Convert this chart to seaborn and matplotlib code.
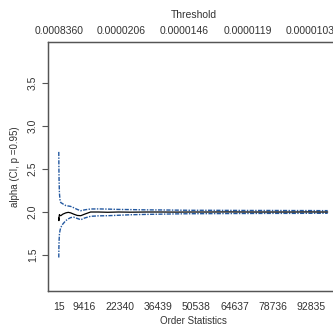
import numpy as np
import pandas as pd
import matplotlib
matplotlib.use("Agg")
import matplotlib.pyplot as plt
import seaborn as sns


# Hill plot readings: order statistic k, alpha estimate and 95% CI bounds
order_k = [15, 60, 120, 250, 500, 750, 1500, 2600, 3500, 4400, 5500, 6800,
           8100, 9500, 11700, 14500, 18000, 22000, 26400, 32000, 37400, 43000,
           48300, 55000, 62000, 70300, 78000, 86000, 92000, 95900, 98800]
alpha_hat = [1.93, 1.90, 1.94, 1.97, 1.96, 1.957, 1.975, 1.99, 1.996, 1.99,
             1.975, 1.96, 1.957, 1.975, 2.0, 2.0, 1.997, 2.0, 1.998, 2.0,
             2.0, 1.999, 2.0, 2.0, 2.001, 2.0, 2.0, 2.0, 2.001, 2.0, 2.0]
ci_upper = [2.70, 2.52, 2.38, 2.22, 2.13, 2.11, 2.095, 2.075, 2.07, 2.065,
            2.05, 2.03, 2.015, 2.025, 2.035, 2.036, 2.034, 2.03, 2.028, 2.025,
            2.024, 2.022, 2.02, 2.02, 2.019, 2.018, 2.018, 2.017, 2.017, 2.016, 2.016]
ci_lower = [1.47, 1.58, 1.66, 1.74, 1.79, 1.82, 1.86, 1.90, 1.92, 1.935,
            1.94, 1.925, 1.91, 1.93, 1.95, 1.955, 1.957, 1.962, 1.968, 1.972,
            1.975, 1.978, 1.98, 1.981, 1.982, 1.983, 1.984, 1.984, 1.985, 1.985, 1.985]

bottom_ticks = [15, 9416, 22340, 36439, 50538, 64637, 78736, 92835]
top_pos = [15, 23100, 46200, 69300, 92400]
top_labels = ["0.0008360", "0.0000206", "0.0000146", "0.0000119", "0.0000103"]
y_ticks = [1.5, 2.0, 2.5, 3.0, 3.5]

df = pd.DataFrame({"k": order_k, "est": alpha_hat, "upper": ci_upper, "lower": ci_lower})

sns.set_theme(style="white")
plt.rcParams["font.family"] = ["Liberation Sans", "DejaVu Sans"]
plt.rcParams["text.color"] = "#333333"

fig = plt.figure(figsize=(3.33, 3.27), dpi=100)
ax = fig.add_axes([48 / 333, 1 - 291 / 327, (339 - 48) / 333, (291 - 42) / 327])

blue = "#2358a0"
sns.lineplot(data=df, x="k", y="upper", ax=ax, color=blue, lw=1.0,
             linestyle=(0, (3, 1, 1, 1)), estimator=None, sort=False)
sns.lineplot(data=df, x="k", y="lower", ax=ax, color=blue, lw=1.0,
             linestyle=(0, (3, 1, 1, 1)), estimator=None, sort=False)
sns.lineplot(data=df, x="k", y="est", ax=ax, color="black", lw=0.9,
             estimator=None, sort=False)

ax.set_xlim(-3944, 102960)
ax.set_ylim(1.08, 3.98)

ax.set_yticks(y_ticks)
ax.set_yticklabels([f"{v:.1f}" for v in y_ticks], rotation=90, va="center",
                   fontsize=7.5, color="#333333")
ax.tick_params(axis="y", left=True, direction="out", length=4.3, width=0.8,
               color="#555555", pad=3)

ax.set_xticks(bottom_ticks)
ax.set_xticklabels([str(v) for v in bottom_ticks], fontsize=7.5, color="#333333")
ax.tick_params(axis="x", bottom=False, length=0, pad=8)

ax.set_xlabel("Order Statistics", fontsize=7, color="#333333", labelpad=3)
ax.set_ylabel("alpha (CI, p =0.95)", fontsize=7, color="#333333", labelpad=6)

for side in ["left", "top", "bottom"]:
    ax.spines[side].set_color("#555555")
    ax.spines[side].set_linewidth(0.9)
ax.spines["right"].set_visible(False)

top = ax.twiny()
top.set_xlim(ax.get_xlim())
top.set_xticks(top_pos)
top.set_xticklabels(top_labels, fontsize=7.5, color="#333333")
top.tick_params(axis="x", top=False, length=0, pad=4)
top.set_xlabel("Threshold", fontsize=7.5, color="#333333", labelpad=6)
for side in ["left", "top", "bottom"]:
    top.spines[side].set_color("#555555")
    top.spines[side].set_linewidth(0.9)
top.spines["right"].set_visible(False)

fig.savefig("out.png", dpi=100)
